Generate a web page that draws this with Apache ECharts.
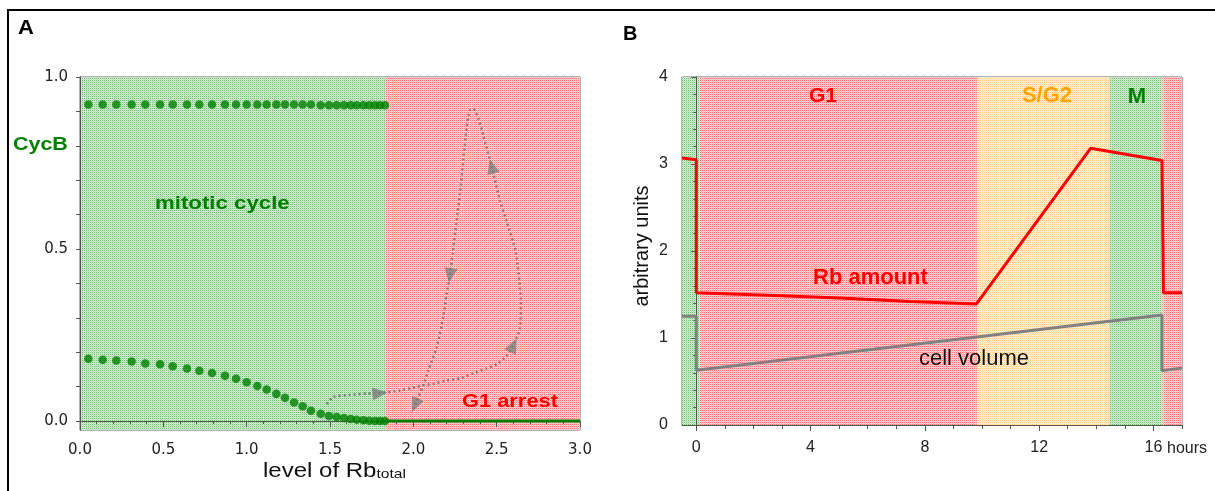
<!DOCTYPE html>
<html>
<head>
<meta charset="utf-8">
<script src="https://cdn.jsdelivr.net/npm/echarts@6/dist/echarts.min.js"></script>
<style>
  html, body { margin: 0; padding: 0; background: #fff; }
  #chart { width: 1215px; height: 491px; }
</style>
</head>
<body>
<div id="chart"></div>
<script>
// ---------- Panel A: steady states of CycB versus total Rb ----------
const rbLevel = [0.050, 0.136, 0.218, 0.310, 0.392, 0.480, 0.556, 0.642, 0.716, 0.792,
                 0.870, 0.936, 1.000, 1.064, 1.120, 1.178, 1.230, 1.284, 1.336, 1.386,
                 1.444, 1.494, 1.540, 1.584, 1.624, 1.660, 1.700, 1.736, 1.770, 1.800, 1.830];
const cycbHigh = [0.92, 0.92, 0.92, 0.92, 0.92, 0.92, 0.92, 0.92, 0.92, 0.92,
                  0.92, 0.92, 0.92, 0.92, 0.92, 0.92, 0.92, 0.92, 0.92, 0.92,
                  0.918, 0.918, 0.918, 0.918, 0.918, 0.918, 0.918, 0.918, 0.918, 0.918, 0.918];
const cycbLow = [0.181, 0.178, 0.176, 0.173, 0.167, 0.165, 0.159, 0.153, 0.146, 0.140,
                 0.132, 0.123, 0.113, 0.102, 0.092, 0.079, 0.068, 0.054, 0.043, 0.030,
                 0.021, 0.015, 0.012, 0.009, 0.006, 0.004, 0.002, 0.001, 0.000, 0.000, 0.000];
// G1-arrest branch (continuous)
const arrestRb = [1.83, 3.0];
const arrestCycb = [0.0, 0.0];
// Cell-cycle trajectory projected on the (Rb, CycB) plane
const trajRb = [1.48, 1.52, 1.62, 1.72, 1.80, 1.92, 2.02, 2.06, 2.12, 2.20,
                2.28, 2.36, 2.44, 2.50, 2.56, 2.60, 2.64, 2.645, 2.615, 2.56,
                2.52, 2.47, 2.42, 2.39, 2.36, 2.34, 2.32, 2.30, 2.28, 2.26,
                2.236, 2.22, 2.20, 2.18, 2.14, 2.09, 2.06, 2.03, 2.01, 1.99];
const trajCycb = [0.050, 0.070, 0.076, 0.080, 0.081, 0.089, 0.099, 0.104, 0.108, 0.118,
                  0.124, 0.139, 0.153, 0.165, 0.190, 0.220, 0.270, 0.350, 0.490, 0.580,
                  0.640, 0.740, 0.830, 0.880, 0.908, 0.903, 0.855, 0.758, 0.661, 0.583,
                  0.487, 0.423, 0.370, 0.302, 0.215, 0.147, 0.104, 0.070, 0.046, 0.025];
const trajArrowAt = [4, 15, 21, 31, 38];
const regimesA = [['mitotic', 0, 1.836], ['arrest', 1.836, 3.0]];
const xLabelsA = [0, 0.5, 1, 1.5, 2, 2.5, 3];
const yLabelsA = [0, 0.5, 1];
const yTicksA = [0, 0.1, 0.2, 0.3, 0.4, 0.5, 0.6, 0.7, 0.8, 0.9, 1.0];

// ---------- Panel B: time courses over one cycle ----------
const hoursRb = [-0.5, 0.0, 0.0, 2.5, 5.0, 7.5, 9.8, 13.8, 16.3, 16.35, 17.0];
const rbAmount = [3.07, 3.05, 1.52, 1.49, 1.46, 1.42, 1.39, 3.18, 3.04, 1.52, 1.52];
const hoursVol = [-0.5, 0.0, 0.0, 16.3, 16.3, 17.0];
const cellVolume = [1.25, 1.25, 0.63, 1.265, 0.625, 0.655];
const phasesB = [['M', -0.5, 0.12], ['G1', 0.12, 9.85], ['SG2', 9.85, 14.45],
                 ['M', 14.45, 16.32], ['G1', 16.32, 17.0]];
const hourLabels = [0, 4, 8, 12, 16];
const hourTicks = [0, 1, 2, 3, 4, 5, 6, 7, 8, 9, 10, 11, 12, 13, 14, 15, 16, 17];

// ---------- dotted background fills ----------
function dotted(dot, mid, base) {
  const c = document.createElement('canvas');
  c.width = 2; c.height = 2;
  const g = c.getContext('2d');
  g.fillStyle = base; g.fillRect(0, 0, 2, 2);
  g.fillStyle = dot; g.fillRect(0, 0, 1, 1);
  g.fillStyle = mid; g.fillRect(1, 1, 1, 1);
  return { image: c, repeat: 'repeat' };
}
const fills = {
  mitotic: dotted('#74bb74', '#c0e0c0', '#d2e9d2'),
  M: dotted('#74bb74', '#c0e0c0', '#d2e9d2'),
  arrest: dotted('#ff7a7a', '#ffbcbc', '#ffd0d0'),
  G1: dotted('#ff7a7a', '#ffbcbc', '#ffd0d0'),
  SG2: dotted('#ffcf85', '#ffe3b8', '#fff0d8')
};

const GREEN = '#008000';
const RED = '#ff0000';
const ORANGE = '#ffa500';
const ARIAL = 'Liberation Sans, Arial, sans-serif';

const Y_MIN_A = -0.026, Y_MAX_A = 1.0;
const Y_MIN_B = 0, Y_MAX_B = 4;

function bands(xi, yi, list, yMin, yMax) {
  return {
    type: 'custom', xAxisIndex: xi, yAxisIndex: yi, silent: true, z: 0,
    data: list.map(b => [b[1], b[2]]),
    encode: { x: [0, 1] },
    renderItem(params, api) {
      const p0 = api.coord([api.value(0), yMax]);
      const p1 = api.coord([api.value(1), yMin]);
      return {
        type: 'rect',
        shape: { x: p0[0], y: p0[1], width: p1[0] - p0[0], height: p1[1] - p0[1] },
        style: { fill: fills[list[params.dataIndex][0]] }
      };
    }
  };
}

const zip = (a, b) => a.map((v, i) => [v, b[i]]);

const axisLine = { show: true, lineStyle: { color: '#555', width: 1 } };

const chart = echarts.init(document.getElementById('chart'));

// annotation text (drawn above the plot areas)
const txt = (x, y, text, font, fill, align, extra) =>
  Object.assign({ type: 'text', x, y, z: 100,
    style: { text, font, fill, align: align || 'left', verticalAlign: 'middle' } }, extra || {});

const option = {
  animation: false,
  backgroundColor: '#fff',
  grid: [
    { left: 80, top: 77, width: 500, height: 353, show: true, borderColor: '#666', borderWidth: 1, backgroundColor: 'transparent' },
    { left: 682, top: 77, width: 500, height: 348, show: true, borderColor: '#666', borderWidth: 1, backgroundColor: 'transparent' }
  ],
  xAxis: [
    {
      type: 'value', gridIndex: 0, min: 0, max: 3, interval: 0.5,
      axisLine, splitLine: { show: false },
      axisTick: { show: true, length: 6, lineStyle: { color: '#555' } },
      minorTick: { show: true, splitNumber: 5, length: 3, lineStyle: { color: '#555' } },
      axisLabel: {
        margin: 13, color: '#222', fontSize: 15, fontFamily: 'DejaVu Sans',
        customValues: xLabelsA, formatter: v => v.toFixed(1)
      }
    },
    {
      type: 'value', gridIndex: 1, min: -0.5, max: 17,
      axisLine, splitLine: { show: false },
      axisTick: { show: true, length: 6, customValues: hourLabels, lineStyle: { color: '#555' } },
      axisLabel: {
        margin: 15, color: '#222', fontSize: 16, fontFamily: ARIAL,
        customValues: hourLabels, formatter: v => String(v)
      }
    },
    {
      type: 'value', gridIndex: 1, min: -0.5, max: 17, position: 'bottom',
      axisLine: { show: false }, splitLine: { show: false }, axisLabel: { show: false },
      axisTick: { show: true, length: 4, customValues: hourTicks, lineStyle: { color: '#555' } }
    }
  ],
  yAxis: [
    {
      type: 'value', gridIndex: 0, min: Y_MIN_A, max: Y_MAX_A,
      axisLine, splitLine: { show: false },
      axisTick: { show: true, length: 4, customValues: yTicksA, lineStyle: { color: '#555' } },
      axisLabel: {
        margin: 12, color: '#222', fontSize: 15, fontFamily: 'DejaVu Sans',
        customValues: yLabelsA, formatter: v => v.toFixed(1)
      }
    },
    {
      type: 'value', gridIndex: 1, min: Y_MIN_B, max: Y_MAX_B, interval: 1,
      axisLine, splitLine: { show: false },
      axisTick: { show: true, length: 5, lineStyle: { color: '#555' } },
      minorTick: { show: true, splitNumber: 5, length: 3, lineStyle: { color: '#555' } },
      axisLabel: { margin: 14, color: '#222', fontSize: 16, fontFamily: ARIAL }
    }
  ],
  series: [
    bands(0, 0, regimesA, Y_MIN_A, Y_MAX_A),
    bands(1, 1, phasesB, Y_MIN_B, Y_MAX_B),
    {
      type: 'line', xAxisIndex: 0, yAxisIndex: 0, data: zip(arrestRb, arrestCycb),
      showSymbol: false, lineStyle: { color: GREEN, width: 3 }, z: 3
    },
    {
      type: 'scatter', xAxisIndex: 0, yAxisIndex: 0, data: zip(rbLevel, cycbHigh),
      symbolSize: 8.5, itemStyle: { color: GREEN }, z: 4
    },
    {
      type: 'scatter', xAxisIndex: 0, yAxisIndex: 0, data: zip(rbLevel, cycbLow),
      symbolSize: 8.5, itemStyle: { color: GREEN }, z: 4
    },
    {
      type: 'line', xAxisIndex: 0, yAxisIndex: 0, data: zip(trajRb, trajCycb),
      showSymbol: false, smooth: 0.2,
      lineStyle: { color: '#7a7a7a', width: 2.5, type: [2, 3] }, z: 5
    },
    {
      id: 'arrows', type: 'scatter', xAxisIndex: 0, yAxisIndex: 0,
      data: trajArrowAt.map(i => [trajRb[i], trajCycb[i]]),
      symbol: 'triangle', symbolSize: [13, 15], itemStyle: { color: '#7f7f7f' }, z: 6
    },
    {
      type: 'line', xAxisIndex: 1, yAxisIndex: 1, data: zip(hoursRb, rbAmount),
      showSymbol: false, lineStyle: { color: RED, width: 3 }, z: 4
    },
    {
      type: 'line', xAxisIndex: 1, yAxisIndex: 1, data: zip(hoursVol, cellVolume),
      showSymbol: false, lineStyle: { color: '#808080', width: 3 }, z: 4
    }
  ],
  graphic: [
    // outer frame
    { type: 'line', z: 100, shape: { x1: 7, y1: 10, x2: 1215, y2: 10 }, style: { stroke: '#000', lineWidth: 2 } },
    { type: 'line', z: 100, shape: { x1: 8, y1: 10, x2: 8, y2: 491 }, style: { stroke: '#000', lineWidth: 2 } },
    // panel A
    txt(18, 28, 'A', 'bold 20px ' + ARIAL, '#000', 'left', { scaleX: 1.1 }),
    txt(13, 145, 'CycB', 'bold 18.5px ' + ARIAL, GREEN, 'left', { scaleX: 1.16 }),
    txt(155, 204, 'mitotic cycle', 'bold 19px ' + ARIAL, GREEN, 'left', { scaleX: 1.17 }),
    txt(462, 402, 'G1 arrest', 'bold 19px ' + ARIAL, RED, 'left', { scaleX: 1.15 }),
    {
      type: 'text', x: 263, y: 470, z: 100, scaleX: 1.2,
      style: {
        text: '{a|level of Rb}{b|total}',
        rich: {
          a: { fontFamily: ARIAL, fontSize: 20, fill: '#111', verticalAlign: 'bottom', lineHeight: 22 },
          b: { fontFamily: ARIAL, fontSize: 13, fill: '#111', verticalAlign: 'bottom', lineHeight: 6 }
        },
        verticalAlign: 'middle'
      }
    },
    // panel B
    txt(623, 34.5, 'B', 'bold 20px ' + ARIAL, '#000'),
    txt(823, 96.7, 'G1', 'bold 21px ' + ARIAL, RED, 'center'),
    txt(1047, 96, 'S/G2', 'bold 22px ' + ARIAL, ORANGE, 'center'),
    txt(1137, 97, 'M', 'bold 22px ' + ARIAL, GREEN, 'center'),
    txt(813, 278, 'Rb amount', 'bold 22px ' + ARIAL, RED),
    txt(919, 359, 'cell volume', '22px ' + ARIAL, '#111'),
    txt(642, 246, 'arbitrary units', '20px ' + ARIAL, '#111', 'center', { rotation: Math.PI / 2 }),
    txt(1167, 449, 'hours', '16px ' + ARIAL, '#222')
  ]
};

chart.setOption(option);

// Orient each arrowhead along the trajectory at its position
const toPx = p => chart.convertToPixel({ xAxisIndex: 0, yAxisIndex: 0 }, p);
const arrowData = trajArrowAt.map(i => {
  const a = toPx([trajRb[i - 1], trajCycb[i - 1]]);
  const b = toPx([trajRb[i + 1], trajCycb[i + 1]]);
  const deg = Math.atan2(-(b[1] - a[1]), b[0] - a[0]) * 180 / Math.PI - 90;
  return { value: [trajRb[i], trajCycb[i]], symbolRotate: deg };
});
chart.setOption({ series: [{ id: 'arrows', data: arrowData }] });
</script>
</body>
</html>
